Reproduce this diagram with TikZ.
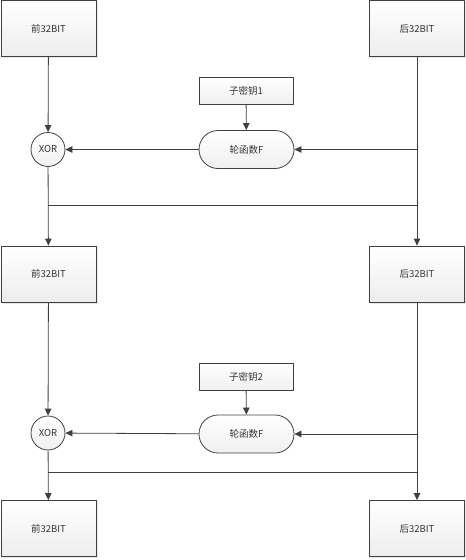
\documentclass[tikz,border=0pt]{standalone}
\usepackage{fontspec}
\setmainfont{Noto Sans CJK SC}
\usepackage{xcolor}
\usetikzlibrary{arrows.meta,positioning,calc,shadows}
\definecolor{ink}{HTML}{404040}
\definecolor{txt}{HTML}{333333}

\begin{document}
\begin{tikzpicture}[
    x=1pt, y=-1pt,
    every node/.style={font=\fontsize{9.5}{11}\selectfont, text=txt},
    blk/.style={draw=ink, line width=0.8pt, top color=white, bottom color=gray!14,
                minimum width=95pt, minimum height=56pt, align=center, inner sep=0pt,
                drop shadow={opacity=0.18, shadow xshift=1.5pt, shadow yshift=-1.5pt}},
    keybox/.style={draw=ink, line width=0.8pt, top color=white, bottom color=gray!12,
                   minimum width=94pt, minimum height=27pt, inner sep=0pt},
    fbox/.style={draw=ink, line width=0.8pt, rounded corners=19pt, top color=white,
                 bottom color=gray!12, minimum width=95pt, minimum height=38pt, inner sep=0pt},
    xorc/.style={circle, draw=ink, line width=0.8pt, top color=white, bottom color=gray!12,
                 minimum size=34pt, inner sep=0pt},
    arr/.style={-{Triangle[length=7pt,width=6.5pt]}, line width=0.8pt, draw=ink},
    ln/.style={line width=0.8pt, draw=ink}
]
\useasboundingbox (0,0) rectangle (466,560);

% ── Round 1 inputs ────────────────────────────────────────────────────────
\node[blk] (lft1) at (48.5, 28.5) {前32BIT};
\node[blk] (rgt1) at (417, 28.5) {后32BIT};

% ── Round 1 ───────────────────────────────────────────────────────────────
\node[keybox] (key1) at (246, 90.5) {子密钥1};
\node[fbox] (fun1) at (246.5, 149.5) {轮函数F};
\node[xorc] (xor1) at (48, 149.5) {XOR};
\coordinate (mid1) at (48, 205);

% ── Round 2 inputs ────────────────────────────────────────────────────────
\node[blk] (lft2) at (48.5, 274) {前32BIT};
\node[blk] (rgt2) at (417, 274) {后32BIT};

% ── Round 2 ───────────────────────────────────────────────────────────────
\node[keybox] (key2) at (246, 376.5) {子密钥2};
\node[fbox] (fun2) at (246.5, 434) {轮函数F};
\node[xorc] (xor2) at (48, 433) {XOR};
\coordinate (mid2) at (48, 472);

% ── Outputs ───────────────────────────────────────────────────────────────
\node[blk] (lft3) at (48.5, 528.5) {前32BIT};
\node[blk] (rgt3) at (417, 528.5) {后32BIT};

% ── Round 1 connectors ────────────────────────────────────────────────────
\draw[arr] (lft1) -- (xor1);
\draw[arr] (key1) -- (fun1);
\draw[arr] (fun1) -- (xor1);
\draw[arr] (rgt1) -- (rgt2);
\draw[arr] (rgt1.south |- fun1.east) -- (fun1.east);
\draw[arr] (xor1) -- (lft2);
\draw[ln] (mid1) -- (mid1 -| rgt1.south);

% ── Round 2 connectors ────────────────────────────────────────────────────
\draw[arr] (lft2) -- (xor2);
\draw[arr] (key2) -- (fun2);
\draw[arr] (fun2) -- (xor2);
\draw[arr] (rgt2) -- (rgt3);
\draw[arr] (rgt2.south |- fun2.east) -- (fun2.east);
\draw[arr] (xor2) -- (lft3);
\draw[ln] (mid2) -- (mid2 -| rgt2.south);

\end{tikzpicture}
\end{document}
